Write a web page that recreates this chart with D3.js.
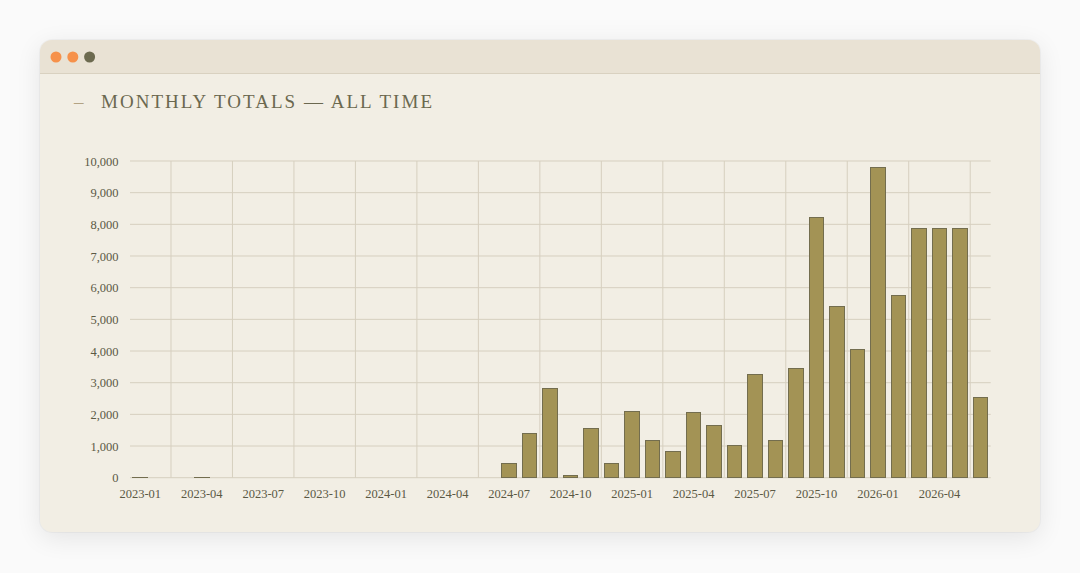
<!DOCTYPE html>
<html>
<head>
<meta charset="utf-8">
<script src="https://cdn.jsdelivr.net/npm/d3@7"></script>
<style>
  html, body { margin: 0; padding: 0; width: 1080px; height: 573px; background: #fafafa; overflow: hidden; }
  #card { position: absolute; left: 40px; top: 40px; width: 1000px; height: 492px; border-radius: 12px;
          background: #f2eee4; box-shadow: 0 6px 26px rgba(0,0,0,0.09), 0 0 0 1px rgba(0,0,0,0.03); overflow: hidden; }
  #hdr { position: absolute; left: 0; top: 0; width: 1000px; height: 33px; background: #e9e2d4; border-bottom: 1px solid #d9d1c0; }
  svg { position: absolute; left: 0; top: 0; }
</style>
</head>
<body>
<div id="card"><div id="hdr"></div></div>
<svg id="chart" width="1080" height="573"></svg>
<script>
const months = ["2023-01","2023-02","2023-03","2023-04","2023-05","2023-06","2023-07","2023-08","2023-09","2023-10","2023-11","2023-12",
  "2024-01","2024-02","2024-03","2024-04","2024-05","2024-06","2024-07","2024-08","2024-09","2024-10","2024-11","2024-12",
  "2025-01","2025-02","2025-03","2025-04","2025-05","2025-06","2025-07","2025-08","2025-09","2025-10","2025-11","2025-12",
  "2026-01","2026-02","2026-03","2026-04","2026-05","2026-06"];
const totals = [20,0,0,15,0,0,0,0,0,0,0,0,
  0,0,0,0,0,0,443,1390,2832,75,1548,443,
  2075,1180,822,2064,1633,1011,3274,1165,3460,8222,5421,4054,
  9789,5747,7853,7853,7874,2538];
const xTickLabels = ["2023-01","2023-04","2023-07","2023-10","2024-01","2024-04","2024-07","2024-10","2025-01","2025-04","2025-07","2025-10","2026-01","2026-04"];
const yTickValues = [0,1000,2000,3000,4000,5000,6000,7000,8000,9000,10000];
const titleText = "MONTHLY TOTALS — ALL TIME";

const svg = d3.select("#chart");
const font = "'Liberation Serif', 'DejaVu Serif', serif";

// window dots
const dotColors = ["#f6914a", "#f6914a", "#6c6a4f"];
svg.selectAll("circle.dot").data(dotColors).join("circle")
  .attr("cx", (d, i) => 56 + i * 16.8).attr("cy", 57).attr("r", 5.5).attr("fill", d => d);

// title
svg.append("text").attr("x", 74).attr("y", 107.5).attr("font-family", font).attr("font-size", 19)
  .attr("fill", "#b3a384").text("–");
svg.append("text").attr("x", 101).attr("y", 108).attr("font-family", font).attr("font-size", 19)
  .attr("fill", "#6b684f").attr("textLength", 331).attr("lengthAdjust", "spacing").text(titleText);

const pL = 130, pR = 990.7, pT = 161, pB = 477.7;
const x = d3.scaleBand().domain(months).range([pL, pR]).paddingInner(0.28).paddingOuter(0.14);
const y = d3.scaleLinear().domain([0, 10000]).range([pB, pT]);

const grid = svg.append("g");
// horizontal grid
grid.selectAll("line.h").data(yTickValues).join("line")
  .attr("x1", pL).attr("x2", pR).attr("y1", d => y(d)).attr("y2", d => y(d))
  .attr("stroke", "#d6cfbf").attr("stroke-width", 1);
// vertical grid: halfway between labelled months
const step = x.step();
grid.selectAll("line.v").data(xTickLabels).join("line")
  .attr("x1", d => x(d) + x.bandwidth() / 2 + step * 1.5).attr("x2", d => x(d) + x.bandwidth() / 2 + step * 1.5)
  .attr("y1", pT).attr("y2", pB)
  .attr("stroke", "#d6cfbf").attr("stroke-width", 1);

// bars
svg.append("g").selectAll("rect").data(months.map((m, i) => ({m, v: totals[i]}))).join("rect")
  .attr("x", d => x(d.m)).attr("width", x.bandwidth())
  .attr("y", d => y(d.v)).attr("height", d => Math.max(0, y(0) - y(d.v)))
  .attr("fill", "#a39355").attr("stroke", "#736d4e").attr("stroke-width", 1)
  .attr("shape-rendering", "crispEdges");

// y axis labels
const yAxis = d3.axisLeft(y).tickValues(yTickValues).tickFormat(d3.format(",")).tickSize(0).tickPadding(0);
const ya = svg.append("g").attr("transform", "translate(118.5,0)").call(yAxis);
ya.select(".domain").remove();
ya.selectAll("text").attr("font-family", font).attr("font-size", 12.5).attr("fill", "#5b5944");

// x axis labels
const xAxis = d3.axisBottom(x).tickValues(xTickLabels).tickSize(0).tickPadding(0);
const xa = svg.append("g").attr("transform", "translate(0," + pB + ")").call(xAxis);
xa.select(".domain").remove();
xa.selectAll("text").attr("font-family", font).attr("font-size", 12.5).attr("fill", "#5b5944")
  .attr("dy", null).attr("y", 20.8);
</script>
</body>
</html>
